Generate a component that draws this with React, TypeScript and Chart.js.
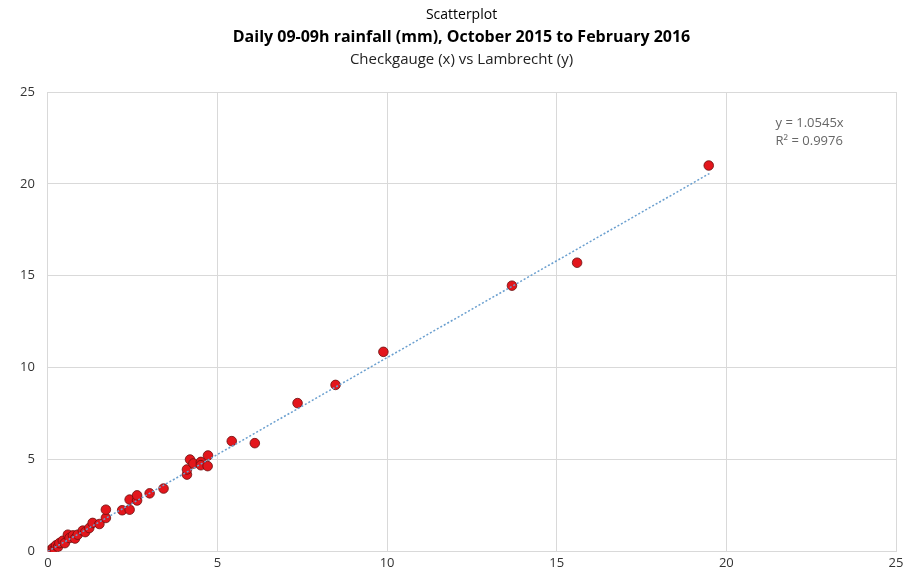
import React, { useEffect, useRef } from "react";
import { Chart, registerables } from "chart.js";

Chart.register(...registerables);

const titleLines = [
  "Scatterplot",
  "Daily 09-09h rainfall (mm), October 2015 to February 2016",
  "Checkgauge (x) vs Lambrecht (y)",
];
const xTicks = [0, 5, 10, 15, 20, 25];
const yTicks = [0, 5, 10, 15, 20, 25];

const checkgauge = [
  0, 0.05, 0.1, 0.13, 0.15, 0.2, 0.24, 0.3, 0.34, 0.44, 0.5, 0.59, 0.64, 0.74, 0.8, 0.88,
  1.03, 1.1, 1.22, 1.32, 1.52, 1.71, 1.71, 2.19, 2.41, 2.41, 2.63, 2.63, 3.0, 3.41,
  4.1, 4.1, 4.19, 4.29, 4.51, 4.51, 4.71, 4.72, 5.42, 6.1, 7.36, 8.48, 9.89, 13.68, 15.6, 19.48,
];
const lambrecht = [
  0, 0.03, 0.08, 0.1, 0.18, 0.12, 0.33, 0.25, 0.45, 0.58, 0.45, 0.91, 0.73, 0.87, 0.7, 0.91,
  1.13, 1.05, 1.27, 1.55, 1.49, 1.82, 2.27, 2.24, 2.27, 2.82, 2.77, 3.05, 3.16, 3.42,
  4.18, 4.46, 5.0, 4.78, 4.87, 4.69, 4.64, 5.22, 6.0, 5.89, 8.07, 9.06, 10.86, 14.46, 15.71, 21.0,
];
const trendSlope = 1.0545;
const trendX = [0, 19.5];
const annotationLines = ["y = 1.0545x", "R\u00b2 = 0.9976"];
const annotationPos = { x: 21.45, y: 23.3 };

const FONT = "'Open Sans', 'Liberation Sans', sans-serif";

const titlePlugin = {
  id: "titles",
  afterDraw(chart: any) {
    const ctx = chart.ctx;
    const cx = chart.width / 2 + 3;
    ctx.save();
    ctx.textAlign = "center";
    ctx.textBaseline = "middle";
    ctx.fillStyle = "#000000";
    ctx.font = `14px ${FONT}`;
    ctx.fillText(titleLines[0], cx, 15);
    ctx.font = `bold 16px ${FONT}`;
    ctx.fillText(titleLines[1], cx, 37);
    ctx.font = `15px ${FONT}`;
    ctx.fillStyle = "#222222";
    ctx.fillText(titleLines[2], cx, 60);
    // annotation
    const xs = chart.scales.x;
    const ys = chart.scales.y;
    ctx.textAlign = "left";
    ctx.fillStyle = "#666666";
    ctx.font = `13px ${FONT}`;
    const ax = xs.getPixelForValue(annotationPos.x);
    const ay = ys.getPixelForValue(annotationPos.y);
    ctx.fillText(annotationLines[0], ax, ay);
    ctx.fillText(annotationLines[1], ax, ay + 18);
    ctx.restore();
  },
};

export default function App() {
  const ref = useRef<HTMLCanvasElement>(null);
  useEffect(() => {
    const points = checkgauge.map((x, i) => ({ x, y: lambrecht[i] }));
    const trend = trendX.map((x) => ({ x, y: x * trendSlope }));
    const chart = new Chart(ref.current!, {
      type: "scatter",
      data: {
        datasets: [
          {
            type: "line",
            data: trend,
            borderColor: "#6a9fcf",
            borderWidth: 1.5,
            borderDash: [2, 2],
            pointRadius: 0,
            fill: false,
          } as any,
          {
            data: points,
            backgroundColor: "#e3161c",
            borderColor: "#6b0f0f",
            borderWidth: 0.8,
            pointRadius: 4.8,
          },
        ],
      },
      options: {
        animation: false,
        responsive: false,
        maintainAspectRatio: false,
        layout: { padding: { top: 92, left: 7, right: 21, bottom: 2 } },
        plugins: { legend: { display: false }, tooltip: { enabled: false }, title: { display: false } },
        scales: {
          x: {
            type: "linear",
            min: 0,
            max: 25,
            afterBuildTicks: (s: any) => {
              s.ticks = xTicks.map((v) => ({ value: v }));
            },
            ticks: { color: "#333333", font: { family: FONT, size: 13 }, padding: 4 },
            grid: { color: "#d9d9d9", drawTicks: false, lineWidth: 1 },
            border: { color: "#d9d9d9" },
          },
          y: {
            type: "linear",
            min: 0,
            max: 25,
            afterBuildTicks: (s: any) => {
              s.ticks = yTicks.map((v) => ({ value: v }));
            },
            ticks: { color: "#333333", font: { family: FONT, size: 13 }, padding: 13 },
            grid: { color: "#d9d9d9", drawTicks: false, lineWidth: 1 },
            border: { color: "#d9d9d9" },
          },
        },
      },
      plugins: [titlePlugin],
    });
    return () => chart.destroy();
  }, []);
  return (
    <div style={{ position: "fixed", left: 0, top: 0, width: 917, height: 577, background: "#fff" }}>
      <canvas ref={ref} width={917} height={577} style={{ display: "block" }} />
    </div>
  );
}
